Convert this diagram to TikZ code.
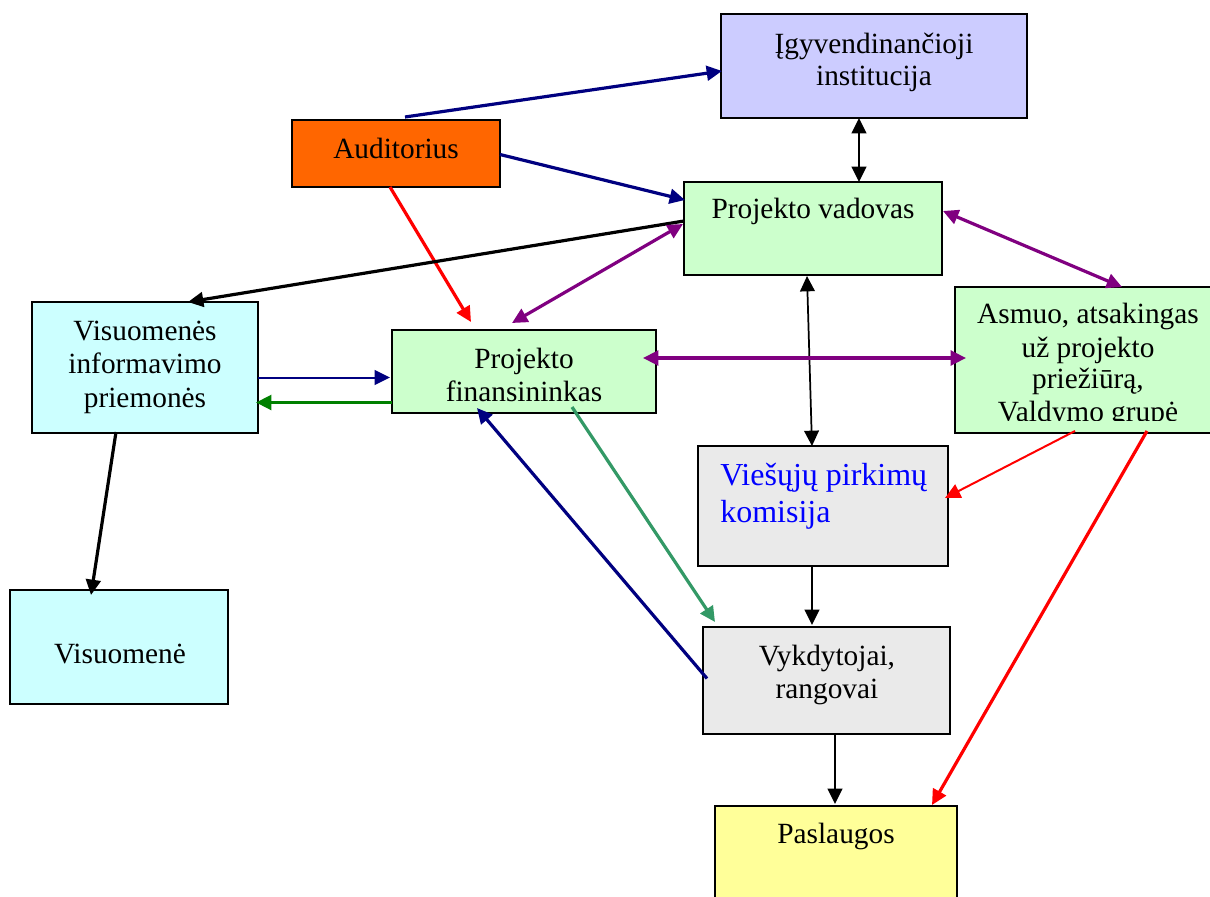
\documentclass[tikz,border=0pt]{standalone}
\usepackage{fontspec}
\setmainfont{Liberation Serif}
\usetikzlibrary{arrows.meta,calc}
\definecolor{navyc}{HTML}{000080}
\definecolor{purplec}{HTML}{800080}
\definecolor{redc}{HTML}{FF0000}
\definecolor{greenc}{HTML}{008000}
\definecolor{seagreenc}{HTML}{339966}
\definecolor{lavenderc}{HTML}{CCCCFF}
\definecolor{orangec}{HTML}{FF6600}
\definecolor{lgreenc}{HTML}{CCFFCC}
\definecolor{lcyanc}{HTML}{CCFFFF}
\definecolor{grayc}{HTML}{EAEAEA}
\definecolor{yellowc}{HTML}{FFFF99}
\definecolor{bluetextc}{HTML}{0000FF}
\begin{document}
\begin{tikzpicture}[x=0.75pt,y=-0.75pt,
  box/.style 2 args={draw=black,line width=1.5pt,inner sep=0pt,outer sep=0pt,
    minimum width=#1*0.75pt,minimum height=#2*0.75pt},
  lbl/.style={anchor=base,inner sep=0pt,font=\fontsize{22}{26}\selectfont},
  lblbig/.style={anchor=base west,inner sep=0pt,font=\fontsize{24}{28}\selectfont,text=bluetextc},
  tipx/.tip={Triangle[length=11.5pt,width=11pt]},
  arr/.style={-tipx},
  darr/.style={tipx-tipx},
  thick line/.style={line width=2.4pt},
  thin line/.style={line width=1.3pt}]
\useasboundingbox (0,0) rectangle (1210,896);
\fill[white] (0,0) rectangle (1210,896);

% boxes
\node[box={306}{104},fill=lavenderc] (ig) at (874,66) {};
\node[box={208}{67},fill=orangec] (aud) at (396,153.5) {};
\node[box={258}{93},fill=lgreenc] (pv) at (813,228.5) {};
\node[box={226}{131},fill=lcyanc] (vis) at (145,367.5) {};
\node[box={264}{83},fill=lgreenc] (fin) at (524,371.5) {};
\node[box={267}{146},fill=lgreenc] (asm) at (1088.5,360) {};
\node[box={250}{120},fill=grayc] (vp) at (823,506) {};
\node[box={247}{107},fill=grayc] (vyk) at (826.5,680.5) {};
\node[box={218}{114},fill=lcyanc] (vs) at (119,647) {};
\node[box={242}{100},fill=yellowc] (pas) at (836,856) {};

% texts
\node[lbl] (ig1) at (874,53) {Įgyvendinančioji};
\node[lbl] (ig2) at (874,85) {institucija};
\node[lbl] (aud1) at (396,158) {Auditorius};
\node[lbl] (pv1) at (813,218) {Projekto vadovas};
\node[lbl] (vis1) at (145,340) {Visuomenės};
\node[lbl] (vis2) at (145,373) {informavimo};
\node[lbl] (vis3) at (145,407) {priemonės};
\node[lbl] (fin1) at (524,368) {Projekto};
\node[lbl] (fin2) at (524,401) {finansininkas};
\begin{scope}
  \clip (956,288) rectangle (1210,420);
  \node[lbl] (asm1) at (1088,323) {Asmuo, atsakingas};
  \node[lbl] (asm2) at (1088,357) {už projekto};
  \node[lbl] (asm3) at (1088,388) {priežiūrą,};
  \node[lbl] (asm4) at (1088,421) {Valdymo grupė};
\end{scope}
\node[lblbig] (vp1) at (720,485) {Viešųjų pirkimų};
\node[lblbig] (vp2) at (720,522) {komisija};
\node[lbl] (vyk1) at (827,665) {Vykdytojai,};
\node[lbl] (vyk2) at (827,698) {rangovai};
\node[lbl] (vs1) at (120,663) {Visuomenė};
\node[lbl] (pas1) at (836,843) {Paslaugos};

% connectors
\draw[arr,thick line,navyc] ($(aud.north)+(9,-3)$) -- ($(ig.west)+(1,5)$);
\draw[arr,thick line,navyc] ($(aud.east)+(0,1)$) -- ($(pv.north west)+(1,18)$);
\draw[arr,thick line,redc] ($(aud.south)+(-6,0)$) -- ($(fin.north west)+(79,-8)$);
\draw[darr,thin line,black] ($(ig.south)+(-15,0)$) -- ($(pv.north)+(46,0)$);
\draw[arr,thick line,black] ($(pv.north west)+(0,39)$) -- ($(vis.north)+(43,0)$);
\draw[darr,thick line,purplec] ($(pv.north west)+(-1,42)$) -- ($(fin.north west)+(120,-7)$);
\draw[darr,thick line,purplec] ($(pv.north east)+(1,29)$) -- ($(asm.north west)+(167,0)$);
\draw[darr,thin line,black] ($(pv.south)+(-6,1)$) -- ($(vp.north)+(-11,0)$);
\draw[darr,thick line,purplec] ($(fin.east)+(-13,-13.5)$) -- ($(asm.west)+(11,-2)$);
\draw[arr,line width=1.5pt,navyc] ($(vis.east)+(0,10)$) -- ($(fin.west)+(-2,6)$);
\draw[arr,thick line,greenc] ($(fin.west)+(0,31)$) -- ($(vis.east)+(-2,35)$);
\draw[arr,thick line,black] ($(vis.south)+(-29,-1)$) -- ($(vs.north)+(-28,5)$);
\draw[arr,thick line,seagreenc] ($(fin.south west)+(180,-6)$) -- ($(vyk.north west)+(12,-5)$);
\draw[arr,thick line,navyc] ($(vyk.west)+(4,-2)$) -- ($(fin.south west)+(85,-5)$);
\draw[arr,line width=1.5pt,redc] ($(asm.south west)+(120,-2)$) -- ($(vp.east)+(-3,-8)$);
\draw[arr,thick line,redc] ($(asm.south west)+(192,-2)$) -- ($(pas.north west)+(217,-1)$);
\draw[arr,thin line,black] ($(vp.south)+(-11,0)$) -- ($(vyk.north)+(-14.5,-2)$);
\draw[arr,thin line,black] ($(vyk.south)+(8.5,0)$) -- ($(pas.north)+(-1,-2)$);
\end{tikzpicture}
\end{document}
